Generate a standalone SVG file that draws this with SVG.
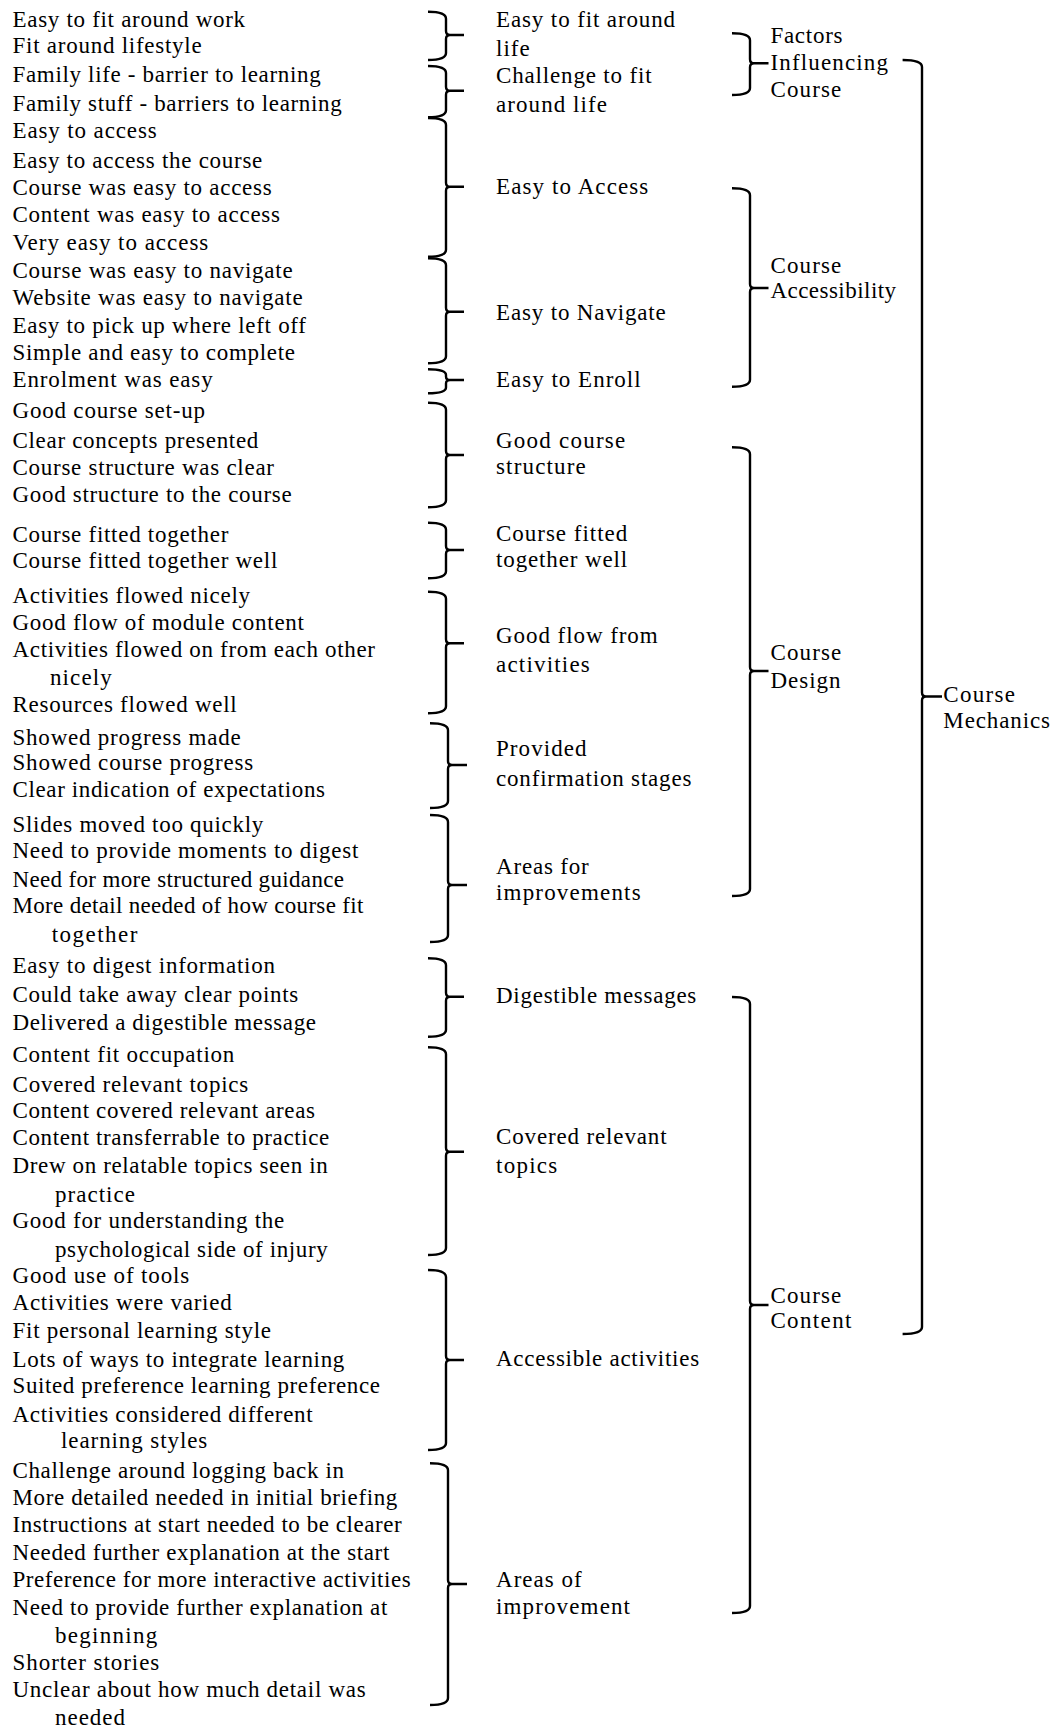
<svg xmlns="http://www.w3.org/2000/svg" width="1057" height="1729" viewBox="0 0 1057 1729">
  <style>
    text { font-family: "Liberation Serif", "Times New Roman", serif; font-size: 23px; fill: #000; }
    .br { fill: none; stroke: #000; stroke-width: 2.4; stroke-linejoin: round; }
  </style>
  <rect x="0" y="0" width="1057" height="1729" fill="#fff"/>

  <!-- raw codes, grouped per theme -->
  <g id="codes-fit-around-life">
    <text x="12.5" y="26.5" textLength="232.5" lengthAdjust="spacing">Easy to fit around work</text>
    <text x="12.5" y="53.3" textLength="189.2" lengthAdjust="spacing">Fit around lifestyle</text>
  </g>
  <g id="codes-challenge-fit">
    <text x="12.5" y="81.7" textLength="308.2" lengthAdjust="spacing">Family life - barrier to learning</text>
    <text x="12.5" y="110.5" textLength="329.2" lengthAdjust="spacing">Family stuff - barriers to learning</text>
  </g>
  <g id="codes-easy-access">
    <text x="12.5" y="138" textLength="144.2" lengthAdjust="spacing">Easy to access</text>
    <text x="12.5" y="168" textLength="249.8" lengthAdjust="spacing">Easy to access the course</text>
    <text x="12.5" y="195" textLength="259.2" lengthAdjust="spacing">Course was easy to access</text>
    <text x="12.5" y="221.7" textLength="267.5" lengthAdjust="spacing">Content was easy to access</text>
    <text x="12.5" y="250" textLength="195.8" lengthAdjust="spacing">Very easy to access</text>
  </g>
  <g id="codes-easy-navigate">
    <text x="12.5" y="278" textLength="280.2" lengthAdjust="spacing">Course was easy to navigate</text>
    <text x="12.5" y="305" textLength="290.2" lengthAdjust="spacing">Website was easy to navigate</text>
    <text x="12.5" y="333" textLength="293.5" lengthAdjust="spacing">Easy to pick up where left off</text>
    <text x="12.5" y="360" textLength="282.5" lengthAdjust="spacing">Simple and easy to complete</text>
  </g>
  <g id="codes-easy-enroll">
    <text x="12.5" y="386.7" textLength="200.2" lengthAdjust="spacing">Enrolment was easy</text>
  </g>
  <g id="codes-course-structure">
    <text x="12.5" y="418.3" textLength="192.5" lengthAdjust="spacing">Good course set-up</text>
    <text x="12.5" y="448.3" textLength="245.8" lengthAdjust="spacing">Clear concepts presented</text>
    <text x="12.5" y="475" textLength="261.5" lengthAdjust="spacing">Course structure was clear</text>
    <text x="12.5" y="501.7" textLength="279.2" lengthAdjust="spacing">Good structure to the course</text>
  </g>
  <g id="codes-fitted-together">
    <text x="12.5" y="541.7" textLength="215.8" lengthAdjust="spacing">Course fitted together</text>
    <text x="12.5" y="568.3" textLength="264.8" lengthAdjust="spacing">Course fitted together well</text>
  </g>
  <g id="codes-good-flow">
    <text x="12.5" y="603.3" textLength="237.5" lengthAdjust="spacing">Activities flowed nicely</text>
    <text x="12.5" y="630" textLength="291.5" lengthAdjust="spacing">Good flow of module content</text>
    <text x="12.5" y="656.7" textLength="362.5" lengthAdjust="spacing">Activities flowed on from each other</text>
    <text x="50" y="685" textLength="61.7" lengthAdjust="spacing">nicely</text>
    <text x="12.5" y="711.7" textLength="224.2" lengthAdjust="spacing">Resources flowed well</text>
  </g>
  <g id="codes-confirmation">
    <text x="12.5" y="745" textLength="228.2" lengthAdjust="spacing">Showed progress made</text>
    <text x="12.5" y="770" textLength="240.8" lengthAdjust="spacing">Showed course progress</text>
    <text x="12.5" y="796.7" textLength="312.5" lengthAdjust="spacing">Clear indication of expectations</text>
  </g>
  <g id="codes-design-improvements">
    <text x="12.5" y="831.7" textLength="250.8" lengthAdjust="spacing">Slides moved too quickly</text>
    <text x="12.5" y="858.3" textLength="345.8" lengthAdjust="spacing">Need to provide moments to digest</text>
    <text x="12.5" y="886.7" textLength="331.5" lengthAdjust="spacing">Need for more structured guidance</text>
    <text x="12.5" y="913.3" textLength="350.8" lengthAdjust="spacing">More detail needed of how course fit</text>
    <text x="51.7" y="941.7" textLength="85.6" lengthAdjust="spacing">together</text>
  </g>
  <g id="codes-digestible">
    <text x="12.5" y="973.3" textLength="262.5" lengthAdjust="spacing">Easy to digest information</text>
    <text x="12.5" y="1001.7" textLength="285.8" lengthAdjust="spacing">Could take away clear points</text>
    <text x="12.5" y="1030" textLength="303.5" lengthAdjust="spacing">Delivered a digestible message</text>
  </g>
  <g id="codes-relevant-topics">
    <text x="12.5" y="1061.7" textLength="221.8" lengthAdjust="spacing">Content fit occupation</text>
    <text x="12.5" y="1091.7" textLength="235.8" lengthAdjust="spacing">Covered relevant topics</text>
    <text x="12.5" y="1118.3" textLength="302.5" lengthAdjust="spacing">Content covered relevant areas</text>
    <text x="12.5" y="1145" textLength="316.8" lengthAdjust="spacing">Content transferrable to practice</text>
    <text x="12.5" y="1173.3" textLength="315.2" lengthAdjust="spacing">Drew on relatable topics seen in</text>
    <text x="55" y="1201.7" textLength="80" lengthAdjust="spacing">practice</text>
    <text x="12.5" y="1228.3" textLength="271.8" lengthAdjust="spacing">Good for understanding the</text>
    <text x="55" y="1256.7" textLength="272.7" lengthAdjust="spacing">psychological side of injury</text>
  </g>
  <g id="codes-accessible-activities">
    <text x="12.5" y="1283.3" textLength="176.8" lengthAdjust="spacing">Good use of tools</text>
    <text x="12.5" y="1310" textLength="219.2" lengthAdjust="spacing">Activities were varied</text>
    <text x="12.5" y="1338.3" textLength="258.5" lengthAdjust="spacing">Fit personal learning style</text>
    <text x="12.5" y="1366.7" textLength="331.8" lengthAdjust="spacing">Lots of ways to integrate learning</text>
    <text x="12.5" y="1393.3" textLength="367.5" lengthAdjust="spacing">Suited preference learning preference</text>
    <text x="12.5" y="1421.7" textLength="300.2" lengthAdjust="spacing">Activities considered different</text>
    <text x="61" y="1448.3" textLength="146.3" lengthAdjust="spacing">learning styles</text>
  </g>
  <g id="codes-content-improvement">
    <text x="12.5" y="1478.3" textLength="331.5" lengthAdjust="spacing">Challenge around logging back in</text>
    <text x="12.5" y="1505" textLength="384.8" lengthAdjust="spacing">More detailed needed in initial briefing</text>
    <text x="12.5" y="1531.7" textLength="389.2" lengthAdjust="spacing">Instructions at start needed to be clearer</text>
    <text x="12.5" y="1560" textLength="376.8" lengthAdjust="spacing">Needed further explanation at the start</text>
    <text x="12.5" y="1586.7" textLength="398.2" lengthAdjust="spacing">Preference for more interactive activities</text>
    <text x="12.5" y="1615" textLength="374.8" lengthAdjust="spacing">Need to provide further explanation at</text>
    <text x="55" y="1643.3" textLength="102.3" lengthAdjust="spacing">beginning</text>
    <text x="12.5" y="1670" textLength="146.8" lengthAdjust="spacing">Shorter stories</text>
    <text x="12.5" y="1696.7" textLength="353.2" lengthAdjust="spacing">Unclear about how much detail was</text>
    <text x="55" y="1725" textLength="70" lengthAdjust="spacing">needed</text>
  </g>

  <!-- sub-themes -->
  <g id="theme-easy-fit">
    <text x="496" y="26.5" textLength="179.1" lengthAdjust="spacing">Easy to fit around</text>
    <text x="496" y="55.5" textLength="33.7" lengthAdjust="spacing">life</text>
  </g>
  <g id="theme-challenge-fit">
    <text x="496" y="83" textLength="155.6" lengthAdjust="spacing">Challenge to fit</text>
    <text x="496" y="111.7" textLength="110.9" lengthAdjust="spacing">around life</text>
  </g>
  <g id="theme-easy-access">
    <text x="496" y="194.4" textLength="152.3" lengthAdjust="spacing">Easy to Access</text>
  </g>
  <g id="theme-easy-navigate">
    <text x="496" y="320" textLength="169.8" lengthAdjust="spacing">Easy to Navigate</text>
  </g>
  <g id="theme-easy-enroll">
    <text x="496" y="386.5" textLength="144.6" lengthAdjust="spacing">Easy to Enroll</text>
  </g>
  <g id="theme-course-structure">
    <text x="496" y="448" textLength="129.2" lengthAdjust="spacing">Good course</text>
    <text x="496" y="473.5" textLength="89.8" lengthAdjust="spacing">structure</text>
  </g>
  <g id="theme-fitted-together">
    <text x="496" y="540.5" textLength="131.2" lengthAdjust="spacing">Course fitted</text>
    <text x="496" y="567" textLength="131.2" lengthAdjust="spacing">together well</text>
  </g>
  <g id="theme-good-flow">
    <text x="496" y="643" textLength="161.7" lengthAdjust="spacing">Good flow from</text>
    <text x="496" y="671.5" textLength="93.8" lengthAdjust="spacing">activities</text>
  </g>
  <g id="theme-confirmation">
    <text x="496" y="756.3" textLength="90.6" lengthAdjust="spacing">Provided</text>
    <text x="496" y="785.5" textLength="195.4" lengthAdjust="spacing">confirmation stages</text>
  </g>
  <g id="theme-design-improvements">
    <text x="496" y="874" textLength="92.6" lengthAdjust="spacing">Areas for</text>
    <text x="496" y="900" textLength="144.6" lengthAdjust="spacing">improvements</text>
  </g>
  <g id="theme-digestible">
    <text x="496" y="1002.5" textLength="200.3" lengthAdjust="spacing">Digestible messages</text>
  </g>
  <g id="theme-relevant-topics">
    <text x="496" y="1143.5" textLength="170.6" lengthAdjust="spacing">Covered relevant</text>
    <text x="496" y="1172.5" textLength="61.3" lengthAdjust="spacing">topics</text>
  </g>
  <g id="theme-accessible-activities">
    <text x="496" y="1366" textLength="203.1" lengthAdjust="spacing">Accessible activities</text>
  </g>
  <g id="theme-content-improvement">
    <text x="496" y="1587" textLength="85.7" lengthAdjust="spacing">Areas of</text>
    <text x="496" y="1614" textLength="134" lengthAdjust="spacing">improvement</text>
  </g>

  <!-- main themes -->
  <g id="main-factors">
    <text x="770.4" y="42.5" textLength="72.1" lengthAdjust="spacing">Factors</text>
    <text x="770.4" y="70" textLength="117.6" lengthAdjust="spacing">Influencing</text>
    <text x="770.4" y="96.5" textLength="70.9" lengthAdjust="spacing">Course</text>
  </g>
  <g id="main-accessibility">
    <text x="770.4" y="272.7" textLength="70.9" lengthAdjust="spacing">Course</text>
    <text x="770.4" y="298.3" textLength="125.7" lengthAdjust="spacing">Accessibility</text>
  </g>
  <g id="main-design">
    <text x="770.4" y="659.5" textLength="70.9" lengthAdjust="spacing">Course</text>
    <text x="770.4" y="688" textLength="70.1" lengthAdjust="spacing">Design</text>
  </g>
  <g id="main-content">
    <text x="770.4" y="1302.5" textLength="70.9" lengthAdjust="spacing">Course</text>
    <text x="770.4" y="1328" textLength="81" lengthAdjust="spacing">Content</text>
  </g>

  <!-- overall theme -->
  <g id="overall-mechanics">
    <text x="943.3" y="701.7" textLength="71.7" lengthAdjust="spacing">Course</text>
    <text x="943.3" y="728" textLength="106.7" lengthAdjust="spacing">Mechanics</text>
  </g>

  <!-- grouping braces -->
  <g id="connectors" class="br">
    <!-- codes to sub-themes -->
    <path d="M428,11.7 Q446,11.7 446,18.7 V31 Q446,35 450,35 H464 M450,35 Q446,35 446,39 V53 Q446,60 428,60"/>
    <path d="M428,66 Q446,66 446,73 V86.7 Q446,90.7 450,90.7 H464 M450,90.7 Q446,90.7 446,94.7 V110.3 Q446,117.3 428,117.3"/>
    <path d="M428,118 Q446,118 446,125 V182.7 Q446,186.7 450,186.7 H464 M450,186.7 Q446,186.7 446,190.7 V249.7 Q446,256.7 428,256.7"/>
    <path d="M428,258.3 Q446,258.3 446,265.3 V307.7 Q446,311.7 450,311.7 H464 M450,311.7 Q446,311.7 446,315.7 V356.3 Q446,363.3 428,363.3"/>
    <path d="M428,369.3 Q446,369.3 446,375 V376.5 Q446,380 450,380 H464 M450,380 Q446,380 446,383.5 V387.5 Q446,393.3 428,393.3"/>
    <path d="M428,402.7 Q446,402.7 446,409.7 V451 Q446,455 450,455 H464 M450,455 Q446,455 446,459 V500.3 Q446,507.3 428,507.3"/>
    <path d="M428,522.7 Q446,522.7 446,529.7 V546 Q446,550 450,550 H464 M450,550 Q446,550 446,554 V571.3 Q446,578.3 428,578.3"/>
    <path d="M428,591.7 Q446,591.7 446,598.7 V639.3 Q446,643.3 450,643.3 H464 M450,643.3 Q446,643.3 446,647.3 V706.3 Q446,713.3 428,713.3"/>
    <path d="M430,723.3 Q448,723.3 448,730.3 V761 Q448,765 452,765 H467 M452,765 Q448,765 448,769 V801 Q448,808 430,808"/>
    <path d="M430,815 Q448,815 448,822 V881 Q448,885 452,885 H467 M452,885 Q448,885 448,889 V935 Q448,942 430,942"/>
    <path d="M428,958.3 Q446,958.3 446,965.3 V992.7 Q446,996.7 450,996.7 H464 M450,996.7 Q446,996.7 446,1000.7 V1029.7 Q446,1036.7 428,1036.7"/>
    <path d="M428,1047.3 Q446,1047.3 446,1054.3 V1147.7 Q446,1151.7 450,1151.7 H464 M450,1151.7 Q446,1151.7 446,1155.7 V1248 Q446,1255 428,1255"/>
    <path d="M428,1270 Q446,1270 446,1277 V1356 Q446,1360 450,1360 H464 M450,1360 Q446,1360 446,1364 V1443 Q446,1450 428,1450"/>
    <path d="M430,1463.3 Q448,1463.3 448,1470.3 V1580 Q448,1584 452,1584 H467 M452,1584 Q448,1584 448,1588 V1698 Q448,1705 430,1705"/>
    <!-- sub-themes to main themes -->
    <path d="M732,33.3 Q750,33.3 750,40.3 V59.3 Q750,63.3 754,63.3 H768.5 M754,63.3 Q750,63.3 750,67.3 V88 Q750,95 732,95"/>
    <path d="M732,188.3 Q750,188.3 750,195.3 V284 Q750,288 754,288 H768.5 M754,288 Q750,288 750,292 V379.7 Q750,386.7 732,386.7"/>
    <path d="M732,447.3 Q750,447.3 750,454.3 V667 Q750,671 754,671 H768.5 M754,671 Q750,671 750,675 V889 Q750,896 732,896"/>
    <path d="M732,997 Q750,997 750,1004 V1301 Q750,1305 754,1305 H768.5 M754,1305 Q750,1305 750,1309 V1606 Q750,1613 732,1613"/>
    <!-- main themes to overall theme -->
    <path d="M902.6,60 Q922,60 922,67 V692.5 Q922,696.5 926,696.5 H942 M926,696.5 Q922,696.5 922,700.5 V1327 Q922,1334 902.6,1334"/>
  </g>
</svg>
